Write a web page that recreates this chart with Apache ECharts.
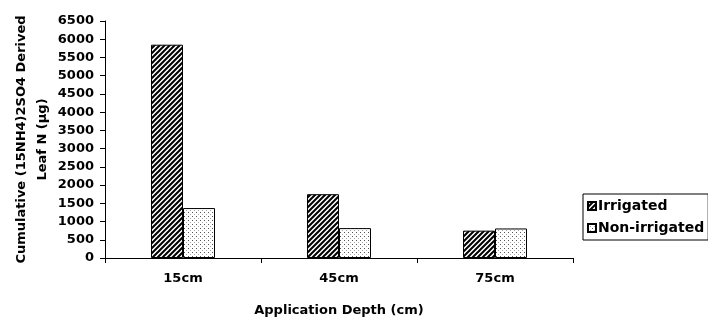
<!DOCTYPE html>
<html>
<head>
<meta charset="utf-8">
<script src="https://cdn.jsdelivr.net/npm/echarts@6/dist/echarts.min.js"></script>
<style>
  html, body { margin: 0; padding: 0; background: #fff; }
  #main { width: 708px; height: 320px; }
</style>
</head>
<body>
<div id="main"></div>
<script>
  // data
  const depths = ['15cm', '45cm', '75cm'];
  const irrigated = [5850, 1750, 750];
  const nonIrrigated = [1370, 820, 810];
  const seriesNames = ['Irrigated', 'Non-irrigated'];

  // hatch: black diagonal stripes, period 5px
  function stripeTile() {
    const s = 10, p = 5;
    const c = document.createElement('canvas');
    c.width = s; c.height = s;
    const ctx = c.getContext('2d');
    ctx.fillStyle = '#fff';
    ctx.fillRect(0, 0, s, s);
    ctx.strokeStyle = '#000';
    ctx.lineWidth = 2;
    ctx.beginPath();
    for (let k = 0; k <= 2 * s; k += p) {
      ctx.moveTo(-2, k + 2);
      ctx.lineTo(k + 2, -2);
    }
    ctx.stroke();
    return c;
  }
  // sparse dots
  function dotTile() {
    const c = document.createElement('canvas');
    c.width = 4; c.height = 4;
    const ctx = c.getContext('2d');
    ctx.fillStyle = '#fff';
    ctx.fillRect(0, 0, 4, 4);
    ctx.fillStyle = '#555';
    ctx.fillRect(0, 0, 1, 1);
    ctx.fillStyle = '#aaa';
    ctx.fillRect(2, 2, 1, 1);
    return c;
  }

  const font = 'DejaVu Sans';
  const chart = echarts.init(document.getElementById('main'));
  chart.setOption({
    animation: false,
    backgroundColor: '#fff',
    textStyle: { fontFamily: font, fontWeight: 'bold', color: '#000' },
    grid: { left: 105, right: 135, top: 21, bottom: 62, outerBoundsMode: 'none', containLabel: false },
    legend: {
      data: seriesNames,
      orient: 'vertical',
      left: 583,
      top: 194,
      borderColor: '#000',
      borderWidth: 1,
      padding: [5, 4, 5, 4],
      itemGap: 8,
      itemWidth: 8,
      itemHeight: 8,
      icon: 'rect',
      textStyle: { fontFamily: font, fontWeight: 'bold', fontSize: 14, color: '#000', padding: [0, 0, 0, -3] }
    },
    xAxis: {
      type: 'category',
      data: depths,
      name: 'Application Depth (cm)',
      nameLocation: 'middle',
      nameGap: 46,
      nameTextStyle: { fontFamily: font, fontWeight: 'bold', fontSize: 13, color: '#000' },
      axisLine: { lineStyle: { color: '#000', width: 1 } },
      axisTick: { show: true, length: 5, lineStyle: { color: '#000' } },
      axisLabel: { fontFamily: font, fontWeight: 'bold', fontSize: 13, color: '#000', margin: 14 }
    },
    yAxis: {
      type: 'value',
      min: 0,
      max: 6500,
      interval: 500,
      name: 'Cumulative (15NH4)2SO4 Derived\nLeaf N (µg)',
      nameLocation: 'middle',
      nameRotate: 90,
      nameGap: 73,
      nameMoveOverlap: false,
      nameTextStyle: { fontFamily: font, fontWeight: 'bold', fontSize: 13, color: '#000', lineHeight: 21, align: 'center', verticalAlign: 'middle' },
      axisLine: { show: true, lineStyle: { color: '#000', width: 1 } },
      axisTick: { show: true, length: 5, lineStyle: { color: '#000' } },
      splitLine: { show: false },
      axisLabel: { fontFamily: font, fontWeight: 'bold', fontSize: 13, color: '#000', margin: 11, formatter: v => String(v) }
    },
    series: [
      {
        name: seriesNames[0],
        type: 'bar',
        data: irrigated,
        barWidth: 32,
        barGap: '0%',
        itemStyle: { color: { image: stripeTile(), repeat: 'repeat' }, borderColor: '#000', borderWidth: 1 }
      },
      {
        name: seriesNames[1],
        type: 'bar',
        data: nonIrrigated,
        barWidth: 32,
        itemStyle: { color: { image: dotTile(), repeat: 'repeat' }, borderColor: '#000', borderWidth: 1 }
      }
    ]
  });
</script>
</body>
</html>
